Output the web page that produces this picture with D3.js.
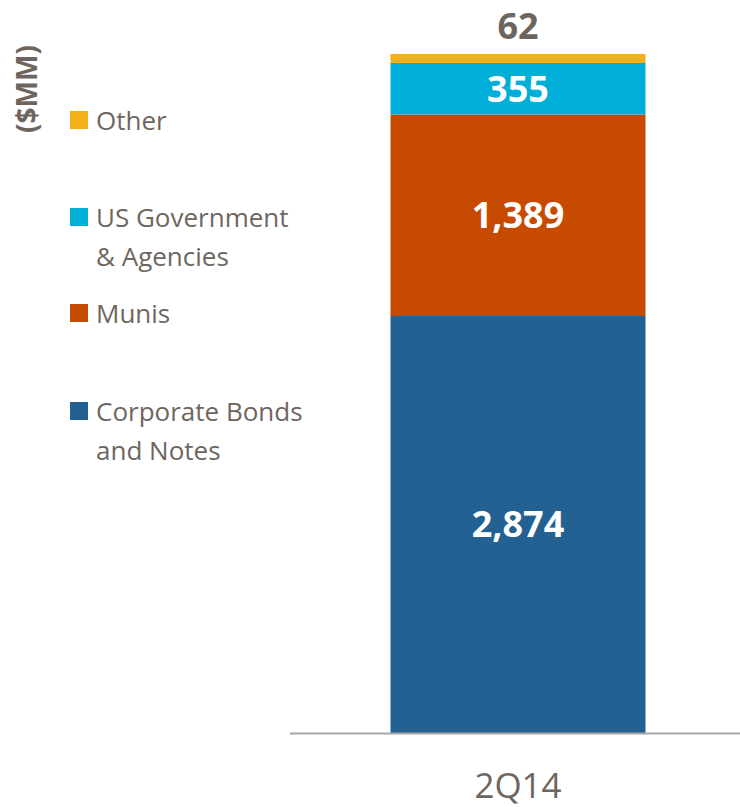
<!DOCTYPE html>
<html>
<head>
<meta charset="utf-8">
<script src="https://cdn.jsdelivr.net/npm/d3@7"></script>
<style>
  html, body { margin: 0; padding: 0; background: #fff; }
  svg { display: block; }
</style>
</head>
<body>
<svg id="chart" width="740" height="807"></svg>
<script>
// Securities portfolio composition, $MM
const periods = ["2Q14"];
const seriesNames = ["Corporate Bonds and Notes", "Munis", "US Government & Agencies", "Other"];
const corporateBonds = [2874];
const munis = [1389];
const usGovernment = [355];
const other = [62];

const legendLines = [
  ["Other"],
  ["US Government", "& Agencies"],
  ["Munis"],
  ["Corporate Bonds", "and Notes"]
];
const legendKeys = ["Other", "US Government & Agencies", "Munis", "Corporate Bonds and Notes"];

const colors = {
  "Corporate Bonds and Notes": "#236192",
  "Munis": "#C64B00",
  "US Government & Agencies": "#00AFD7",
  "Other": "#F4B018"
};

const textColor = "#6E665E";
const font = "'Open Sans', 'Noto Sans', sans-serif";

const rows = periods.map((p, i) => ({
  period: p,
  "Corporate Bonds and Notes": corporateBonds[i],
  "Munis": munis[i],
  "US Government & Agencies": usGovernment[i],
  "Other": other[i]
}));

const svg = d3.select("#chart");

const baseline = 733;
const plotTop = 54;
const x = d3.scaleBand().domain(periods).range([296, 740]).paddingInner(0).paddingOuter(0.3706);
const totalMax = d3.max(rows, r => d3.sum(seriesNames, k => r[k]));
const y = d3.scaleLinear().domain([0, totalMax]).range([baseline, plotTop]);

const stacked = d3.stack().keys(seriesNames)(rows);

const layers = svg.append("g").selectAll("g")
  .data(stacked)
  .join("g")
  .attr("fill", d => colors[d.key]);

layers.selectAll("rect")
  .data(d => d.map(v => ({ key: d.key, v })))
  .join("rect")
  .attr("x", d => x(d.v.data.period))
  .attr("width", x.bandwidth())
  .attr("y", d => y(d.v[1]))
  .attr("height", d => y(d.v[0]) - y(d.v[1]));

// value labels: inside for the large segments, above the bar for the thin top one
const fmt = d3.format(",");
stacked.forEach(layer => {
  layer.forEach(v => {
    const val = v[1] - v[0];
    const cx = x(v.data.period) + x.bandwidth() / 2;
    const isTop = layer.key === "Other";
    svg.append("text")
      .attr("x", cx)
      .attr("y", isTop ? y(v[1]) - 15 : (y(v[0]) + y(v[1])) / 2)
      .attr("dy", isTop ? 0 : "0.36em")
      .attr("text-anchor", "middle")
      .attr("font-family", font)
      .attr("font-weight", 700)
      .attr("font-size", 36)
      .attr("fill", isTop ? textColor : "#fff")
      .text(fmt(val));
  });
});

// x axis
const xAxis = svg.append("g")
  .attr("transform", `translate(0,${baseline})`)
  .call(d3.axisBottom(x).tickSize(0));
xAxis.select(".domain").remove();
xAxis.selectAll("text")
  .attr("y", 65)
  .attr("dy", 0)
  .attr("font-family", font)
  .attr("font-size", 35)
  .attr("fill", textColor);

svg.append("line")
  .attr("x1", 290).attr("x2", 740)
  .attr("y1", baseline + 0.5).attr("y2", baseline + 0.5)
  .attr("stroke", "#A6A6A6")
  .attr("stroke-width", 2);

// unit label
svg.append("text")
  .attr("transform", "translate(37,89) rotate(-90)")
  .attr("text-anchor", "middle")
  .attr("font-family", font)
  .attr("font-weight", 700)
  .attr("font-size", 28)
  .attr("fill", textColor)
  .text("($MM)");

// legend
const legendY = [130, 227, 323, 421];
const legend = svg.append("g");
legendKeys.forEach((k, i) => {
  const g = legend.append("g").attr("transform", `translate(0,${legendY[i]})`);
  g.append("rect")
    .attr("x", 70).attr("y", -19)
    .attr("width", 18).attr("height", 18)
    .attr("fill", colors[k]);
  const t = g.append("text")
    .attr("x", 96)
    .attr("font-family", font)
    .attr("font-size", 26)
    .attr("fill", textColor);
  legendLines[i].forEach((line, j) => {
    t.append("tspan").attr("x", 96).attr("dy", j === 0 ? 0 : 39).text(line);
  });
});
</script>
</body>
</html>
